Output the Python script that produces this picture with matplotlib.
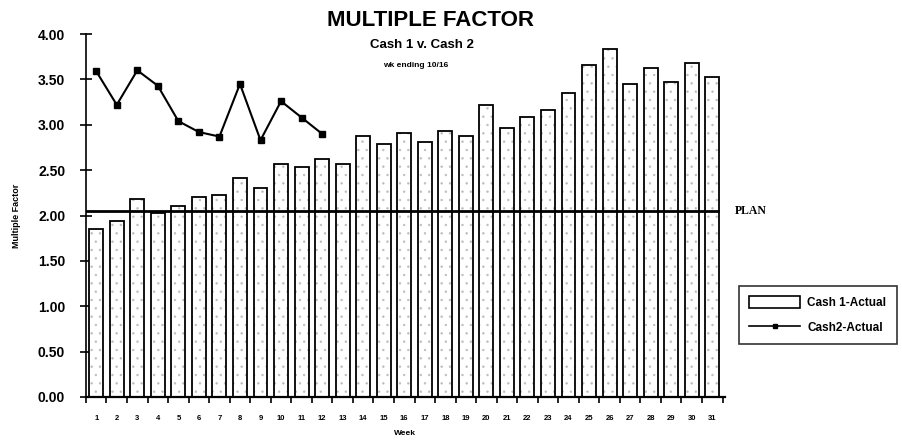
import numpy as np
import matplotlib.pyplot as plt
from matplotlib.lines import Line2D
from matplotlib.patches import Patch

plt.rcParams['font.family'] = ['Liberation Sans', 'DejaVu Sans']
plt.rcParams['hatch.color'] = '#bdbdbd'
plt.rcParams['hatch.linewidth'] = 0.5

weeks = list(range(1, 32))
cash1_actual = [1.85, 1.94, 2.18, 2.03, 2.11, 2.20, 2.23, 2.41, 2.30, 2.57,
                2.53, 2.62, 2.57, 2.88, 2.79, 2.91, 2.81, 2.93, 2.88, 3.22,
                2.97, 3.09, 3.16, 3.35, 3.66, 3.83, 3.45, 3.63, 3.47, 3.68, 3.53]
cash2_weeks = list(range(1, 13))
cash2_actual = [3.59, 3.22, 3.60, 3.43, 3.04, 2.92, 2.87, 3.45, 2.83, 3.26, 3.08, 2.90]
plan = 2.05
yticks = [0.0, 0.5, 1.0, 1.5, 2.0, 2.5, 3.0, 3.5, 4.0]

fig = plt.figure(figsize=(9.02, 4.41), dpi=100)
ax = fig.add_axes([0.0953, 0.0998, 0.708, 0.823])

# stippled fill, then a clean outline on top
ax.bar(weeks, cash1_actual, width=0.68, color='white', edgecolor='#bdbdbd',
       linewidth=0, hatch='..', zorder=2)
ax.bar(weeks, cash1_actual, width=0.68, color='none', edgecolor='black',
       linewidth=1.3, zorder=3)
ax.plot(cash2_weeks, cash2_actual, color='black', lw=1.5, marker='s', ms=4, zorder=5)
ax.plot([0.5, 31.3], [plan, plan], color='black', lw=2, zorder=4)
ax.text(32.1, plan, 'PLAN', fontsize=8.5, family='Liberation Serif',
        fontweight='bold', va='center', ha='left')

ax.set_xlim(0.5, 31.6)
ax.set_ylim(0, 4.0)
ax.spines['top'].set_visible(False)
ax.spines['right'].set_visible(False)
ax.spines['left'].set_linewidth(1.2)
ax.spines['bottom'].set_linewidth(1.6)

ax.set_yticks(yticks)
ax.set_yticklabels(['%.2f' % v for v in yticks], fontsize=10, fontweight='bold')
ax.tick_params(axis='y', direction='inout', length=8, width=1.2, pad=11)

ax.set_xticks(weeks)
ax.set_xticklabels([str(w) for w in weeks], fontsize=5.5, fontweight='bold')
ax.set_xticks(np.arange(0.5, 32, 1), minor=True)
ax.tick_params(axis='x', which='major', length=0, pad=13)
ax.tick_params(axis='x', which='minor', direction='out', length=4, width=1.2)

ax.set_xlabel('Week', fontsize=6, fontweight='bold', labelpad=6)
ax.set_ylabel('Multiple Factor', fontsize=6.5, fontweight='bold', labelpad=12)

fig.text(0.477, 0.953, 'MULTIPLE FACTOR', ha='center', va='center',
         fontsize=16, fontweight='bold')
fig.text(0.468, 0.898, 'Cash 1 v. Cash 2', ha='center', va='center',
         fontsize=9.5, fontweight='bold')
fig.text(0.461, 0.852, 'wk ending 10/16', ha='center', va='center',
         fontsize=6, fontweight='bold')

handles = [Patch(facecolor='white', edgecolor='black', linewidth=1.2),
           Line2D([], [], color='black', lw=1.2, marker='s', ms=3)]
leg = fig.legend(handles, ['Cash 1-Actual', 'Cash2-Actual'],
                 loc='upper left', bbox_to_anchor=(0.819, 0.352),
                 fontsize=8.5, frameon=True, fancybox=False, handlelength=4.3,
                 handleheight=1.1, borderpad=0.9, labelspacing=1.0,
                 handletextpad=0.6, borderaxespad=0)
leg.get_frame().set_edgecolor('black')
leg.get_frame().set_linewidth(1.2)
for t in leg.get_texts():
    t.set_fontweight('bold')

fig.savefig('out.png', dpi=100)
